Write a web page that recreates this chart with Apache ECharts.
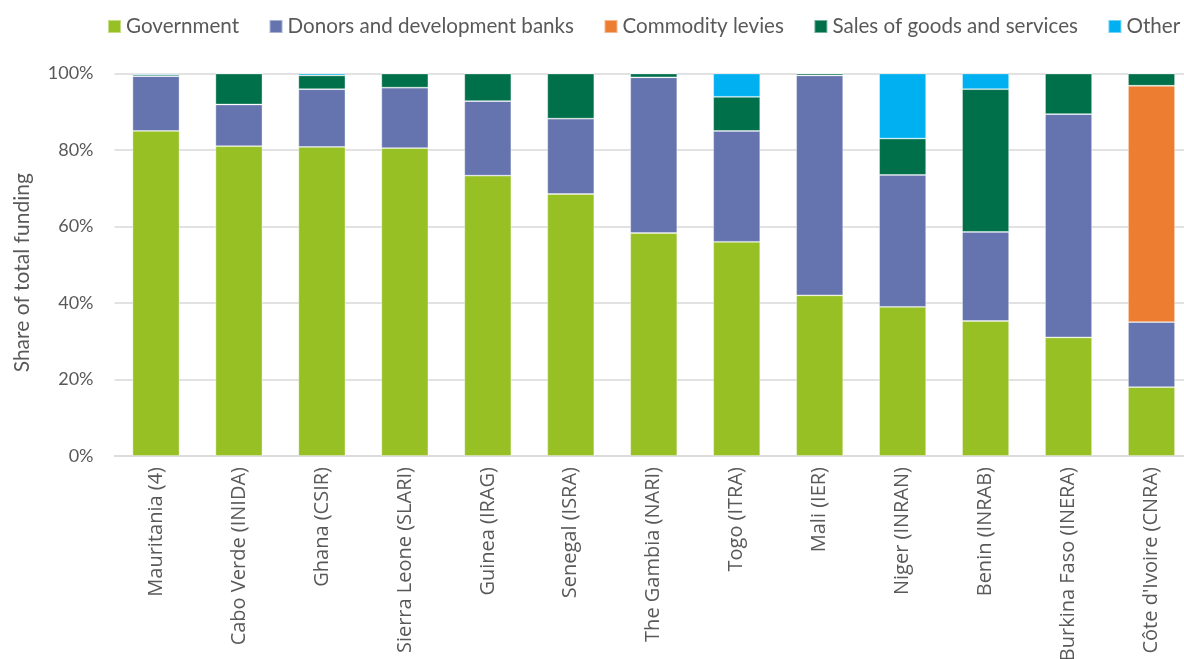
<!DOCTYPE html>
<html><head><meta charset="utf-8">
<script src="https://cdn.jsdelivr.net/npm/echarts@6/dist/echarts.min.js"></script>
<style>html,body{margin:0;padding:0;background:#fff}#c{width:1184px;height:659px}</style>
</head><body><div id="c"></div>
<script>
const categories = ["Mauritania (4)","Cabo Verde (INIDA)","Ghana (CSIR)","Sierra Leone (SLARI)","Guinea (IRAG)","Senegal (ISRA)","The Gambia (NARI)","Togo (ITRA)","Mali (IER)","Niger (INRAN)","Benin (INRAB)","Burkina Faso (INERA)","Côte d'Ivoire (CNRA)"];
const government = [85.0, 81.0, 80.8, 80.5, 73.3, 68.5, 58.3, 56.0, 42.0, 39.0, 35.3, 31.0, 18.0];
const donors =     [14.3, 10.9, 15.1, 15.8, 19.5, 19.7, 40.7, 29.0, 57.5, 34.5, 23.3, 58.4, 17.0];
const commodity =  [0, 0, 0, 0, 0, 0, 0, 0, 0, 0, 0, 0, 61.8];
const sales =      [0.4, 8.1, 3.6, 3.7, 7.2, 11.8, 1.0, 8.9, 0.5, 9.5, 37.3, 10.6, 3.2];
const other =      [0.3, 0, 0.5, 0, 0, 0, 0, 6.1, 0, 17.0, 4.1, 0, 0];
const yTicks = [0, 20, 40, 60, 80, 100];

const seriesDefs = [
  ["Government", government, "#97C024"],
  ["Donors and development banks", donors, "#6574AE"],
  ["Commodity levies", commodity, "#ED7D31"],
  ["Sales of goods and services", sales, "#00704A"],
  ["Other", other, "#00B0F0"]
];
const chart = echarts.init(document.getElementById('c'));
chart.setOption({
  animation: false,
  legend: {
    top: 16, left: 107, width: 1150, padding: 0,
    itemWidth: 13, itemHeight: 13, itemGap: 29.5,
    icon: 'rect',
    textStyle: {fontFamily: 'Lato', fontSize: 20.6, color: '#595959'},
    data: seriesDefs.map(s => s[0])
  },
  grid: {left: 114.5, right: -9, top: 73.5, bottom: 203, containLabel: false, outerBoundsMode: 'none'},
  xAxis: {
    type: 'category', data: categories,
    axisLine: {show: true, lineStyle: {color: '#D9D9D9', width: 1.5}},
    axisTick: {show: false},
    axisLabel: {rotate: 90, interval: 0, fontFamily: 'Open Sans', fontSize: 20, color: '#595959', margin: 11}
  },
  yAxis: {
    type: 'value', min: 0, max: 100, interval: 20,
    name: 'Share of total funding', nameLocation: 'middle', nameGap: 82,
    nameTextStyle: {fontFamily: 'Lato', fontSize: 21, color: '#595959', padding: [0, 16, 0, 0]},
    axisLabel: {formatter: v => yTicks.includes(v) ? v + '%' : '', fontFamily: 'Lato', fontSize: 18, color: '#595959', margin: 21},
    splitLine: {lineStyle: {color: '#D9D9D9', width: 1.5}},
    axisLine: {show: false}, axisTick: {show: false}
  },
  series: seriesDefs.map(([name, data, color]) => ({
    name, type: 'bar', stack: 'total', data, barWidth: 47,
    itemStyle: {color, borderColor: 'rgba(255,255,255,0.45)', borderWidth: 0.8}
  }))
});
</script></body></html>
